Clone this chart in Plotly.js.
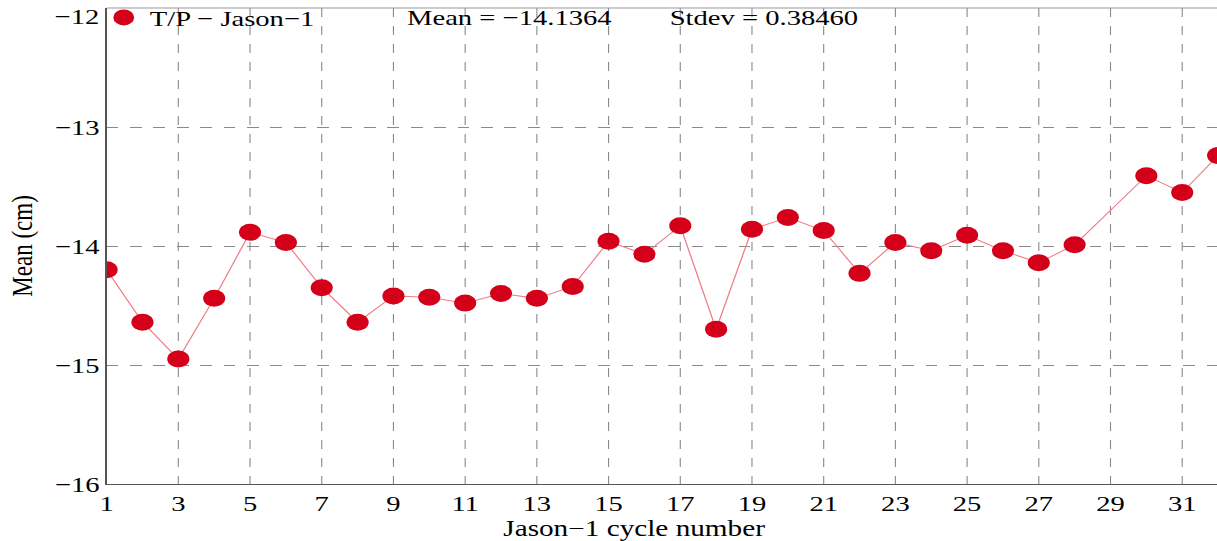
<!DOCTYPE html>
<html>
<head>
<meta charset="utf-8">
<script src="https://cdn.plot.ly/plotly-3.0.1.min.js"></script>
<style>
html,body{margin:0;padding:0;background:#fff;overflow:hidden;}
#wrap{width:1217px;height:541px;overflow:hidden;}
#chart{width:936px;height:541px;transform:scaleX(1.30021);transform-origin:0 0;}
</style>
</head>
<body>
<div id="wrap"><div id="chart"></div></div>
<script>
const cycles = [1,2,3,4,5,6,7,8,9,10,11,12,13,14,15,16,17,18,19,20,21,22,23,24,25,26,27,28,30,31,32];
const meanValues = [-14.20,-14.64,-14.95,-14.44,-13.885,-13.97,-14.35,-14.64,-14.42,-14.43,-14.48,-14.40,-14.44,-14.34,-13.96,-14.07,-13.83,-14.70,-13.86,-13.76,-13.87,-14.23,-13.97,-14.04,-13.91,-14.04,-14.14,-13.99,-13.41,-13.55,-13.24];
const seriesName = "T/P − Jason−1";
const meanText = "Mean = −14.1364";
const stdevText = "Stdev = 0.38460";
const xTitle = "Jason−1 cycle number";
const yTitle = "Mean (cm)";
const xTicks = [1,3,5,7,9,11,13,15,17,19,21,23,25,27,29,31];
const yTicks = [-16,-15,-14,-13,-12];

const fmt = v => String(v).replace("-", "\u2212");
const yTop = Math.max(...yTicks);
const serif = "Liberation Serif, Times New Roman, serif";
const traces = [
  {x: cycles, y: meanValues, mode: "lines", line: {color: "#f07c84", width: 1}, showlegend: false, hoverinfo: "skip"},
  {x: cycles, y: meanValues, mode: "markers", name: seriesName, marker: {color: "#d4001a", size: 17, line: {width: 0}}}
];
const layout = {
  width: 936, height: 541,
  margin: {l: 82.3, r: 0, t: 8, b: 57, autoexpand: false},
  paper_bgcolor: "#fff", plot_bgcolor: "#fff",
  font: {family: serif, size: 22, color: "#000"},
  showlegend: true,
  legend: {x: -0.008, y: 1.024, xanchor: "left", yanchor: "top", bgcolor: "rgba(0,0,0,0)", font: {family: serif, size: 22}, itemwidth: 30},
  xaxis: {
    range: [1, 31.97], tickvals: xTicks, ticktext: xTicks.map(String),
    showgrid: true, gridcolor: "#8a8a8a", griddash: "dash", gridwidth: 0.85,
    zeroline: false, showline: true, linecolor: "#555", linewidth: 1,
    ticks: "", ticklen: 0, tickfont: {family: serif, size: 22}, automargin: false
  },
  yaxis: {
    range: [-16, -12], tickvals: yTicks, ticktext: yTicks.map(v => v === yTop ? "" : fmt(v)),
    showgrid: true, gridcolor: "#8a8a8a", griddash: "dash", gridwidth: 1,
    zeroline: false, showline: true, linecolor: "#555", linewidth: 1,
    ticks: "", ticklen: 0, tickfont: {family: serif, size: 22}, automargin: false
  },
  shapes: [
    {type: "line", xref: "paper", yref: "paper", x0: 0, x1: 1, y0: 1, y1: 1, line: {color: "#999", width: 1}}
  ],
  annotations: [
    {xref: "paper", yref: "y", x: 0, y: yTop, xanchor: "right", yanchor: "top", xshift: -4, yshift: 6, text: fmt(yTop), showarrow: false, font: {family: serif, size: 22}},
    {xref: "paper", yref: "paper", x: 0.268, y: 0.981, xanchor: "left", yanchor: "middle", text: meanText, showarrow: false, font: {family: serif, size: 22}},
    {xref: "paper", yref: "paper", x: 0.505, y: 0.981, xanchor: "left", yanchor: "middle", text: stdevText, showarrow: false, font: {family: serif, size: 22}},
    {xref: "paper", yref: "paper", x: 0.4757, y: 0, xanchor: "center", yanchor: "middle", yshift: -44, text: xTitle, showarrow: false, font: {family: serif, size: 22.5}},
    {xref: "paper", yref: "paper", x: 0, y: 0.5, xanchor: "center", yanchor: "middle", xshift: -65.3, textangle: -90, text: yTitle, showarrow: false, font: {family: serif, size: 23}}
  ]
};
Plotly.newPlot("chart", traces, layout, {displayModeBar: false, staticPlot: true});
</script>
</body>
</html>
